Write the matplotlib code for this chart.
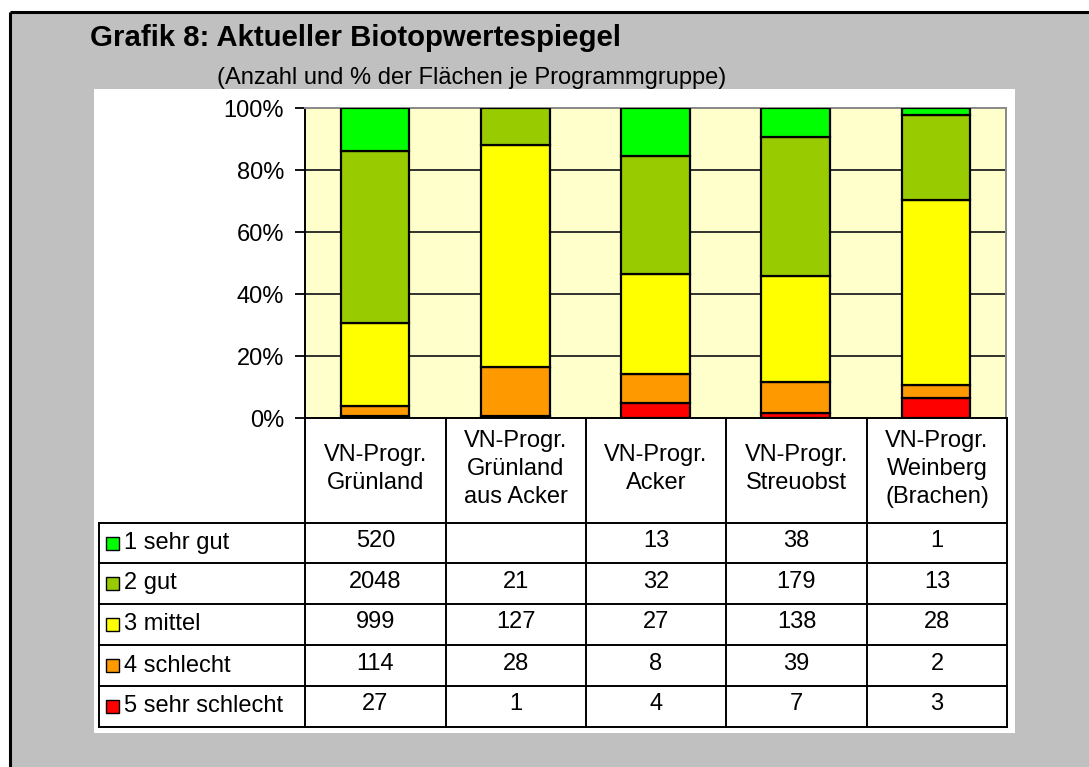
import matplotlib
matplotlib.use("Agg")
import matplotlib.pyplot as plt
from matplotlib.patches import Rectangle
import numpy as np

plt.rcParams['font.family'] = ['Liberation Sans', 'DejaVu Sans']

# ---------------- data ----------------
categories = ["VN-Progr.\nGrünland", "VN-Progr.\nGrünland\naus Acker", "VN-Progr.\nAcker",
              "VN-Progr.\nStreuobst", "VN-Progr.\nWeinberg\n(Brachen)"]
series_names = ["1 sehr gut", "2 gut", "3 mittel", "4 schlecht", "5 sehr schlecht"]
sehr_gut = [520, None, 13, 38, 1]
gut = [2048, 21, 32, 179, 13]
mittel = [999, 127, 27, 138, 28]
schlecht = [114, 28, 8, 39, 2]
sehr_schlecht = [27, 1, 4, 7, 3]
series_values = [sehr_gut, gut, mittel, schlecht, sehr_schlecht]
series_colors = ["#00FF00", "#99CC00", "#FFFF00", "#FF9900", "#FF0000"]
ytick_values = [0, 20, 40, 60, 80, 100]
ytick_labels = ["0%", "20%", "40%", "60%", "80%", "100%"]
title = "Grafik 8: Aktueller Biotopwertespiegel"
subtitle = "(Anzahl und % der Flächen je Programmgruppe)"

# ---------------- layout (pixels) ----------------
W, H = 1089, 767
fig = plt.figure(figsize=(W / 100, H / 100), dpi=100)
fig.patch.set_facecolor("white")

ov = fig.add_axes([0, 0, 1, 1])
ov.set_xlim(0, W)
ov.set_ylim(H, 0)
ov.axis("off")
ov.set_zorder(0)

# grey frame
ov.add_patch(Rectangle((10, 12), W, H, facecolor="#C0C0C0", edgecolor="none"))
ov.plot([10, W], [12, 12], color="black", lw=2.2, solid_capstyle="butt")
ov.plot([10, 10], [12, H], color="black", lw=2.2, solid_capstyle="butt")
# white chart panel
ov.add_patch(Rectangle((94, 89), 1015 - 94, 733 - 89, facecolor="white", edgecolor="none"))

ov.text(90, 46, title, fontsize=21.2, fontweight="bold", ha="left", va="baseline")
ov.text(217, 84, subtitle, fontsize=17, ha="left", va="baseline")

# plot area
px0, px1, py0, py1 = 305, 1006, 108, 418
ax = fig.add_axes([px0 / W, 1 - py1 / H, (px1 - px0) / W, (py1 - py0) / H])
ax.set_zorder(1)
ax.set_facecolor("#FFFFCC")

vals = np.array([[0 if v is None else v for v in s] for s in series_values], dtype=float)
totals = vals.sum(axis=0)
pct = vals / totals * 100
x = np.arange(len(categories))
bottom = np.zeros(len(categories))
# stack from bottom (5 sehr schlecht) to top (1 sehr gut)
for i in range(len(series_names) - 1, -1, -1):
    h = pct[i]
    mask = h > 0
    ax.bar(x[mask], h[mask], bottom=bottom[mask], width=0.49, color=series_colors[i],
           edgecolor="black", linewidth=1.6, zorder=3)
    bottom += h

ax.set_xlim(-0.5, len(categories) - 0.5)
ax.set_ylim(0, 100)
ax.set_yticks(ytick_values)
ax.set_yticklabels(ytick_labels, fontsize=17)
ax.set_xticks([])
ax.tick_params(axis="y", direction="out", length=7, width=1.3, pad=8, color="black")
for yv in ytick_values[1:-1]:
    ax.axhline(yv, color="#222222", lw=1.3, zorder=1)
ax.spines["left"].set_color("black")
ax.spines["left"].set_linewidth(1.4)
ax.spines["bottom"].set_color("black")
ax.spines["bottom"].set_linewidth(1.4)
ax.spines["top"].set_color("#888888")
ax.spines["top"].set_linewidth(1.4)
ax.spines["right"].set_color("#888888")
ax.spines["right"].set_linewidth(1.4)

# ---------------- data table ----------------
col_x = [305, 446, 586, 726, 867, 1007]
row_y = [418, 523, 563, 604, 645, 686, 727]
tl = 99
lw = 1.4
for cx in col_x:
    ov.plot([cx, cx], [row_y[0], row_y[-1]], color="black", lw=lw, solid_capstyle="projecting")
ov.plot([tl, tl], [row_y[1], row_y[-1]], color="black", lw=lw, solid_capstyle="projecting")
for ry in row_y[1:]:
    ov.plot([tl, col_x[-1]], [ry, ry], color="black", lw=lw, solid_capstyle="projecting")

for j, cat in enumerate(categories):
    cxm = (col_x[j] + col_x[j + 1]) / 2
    ov.text(cxm, 469, cat, fontsize=17, ha="center", va="center",
            linespacing=1.38, multialignment="center")

for i, name in enumerate(series_names):
    cy = (row_y[i + 1] + row_y[i + 2]) / 2
    ov.add_patch(Rectangle((106, cy - 6.5), 13, 13, facecolor=series_colors[i],
                           edgecolor="black", lw=1.0))
    ov.text(124, cy, name, fontsize=17, ha="left", va="center")
    for j, v in enumerate(series_values[i]):
        if v is None:
            continue
        cxm = (col_x[j] + col_x[j + 1]) / 2
        ov.text(cxm, cy - 2, str(v), fontsize=17, ha="center", va="center")

fig.savefig("out.png", dpi=100)
